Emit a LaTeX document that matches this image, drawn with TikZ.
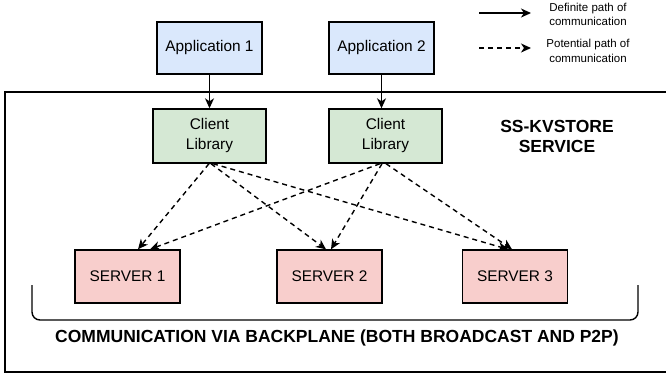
\documentclass[tikz,border=0pt]{standalone}
\usepackage{fontspec}
\setmainfont{Liberation Sans}
\usetikzlibrary{arrows.meta,calc}

\definecolor{appblue}{HTML}{DAE8FC}
\definecolor{libgreen}{HTML}{D5E8D4}
\definecolor{srvred}{HTML}{F8CECC}

\tikzset{
  box/.style={draw=black, line width=1.4pt, inner sep=0pt, align=center,
    font=\fontsize{15.4}{20}\selectfont},
  appbox/.style={box, fill=appblue, minimum width=105pt, minimum height=52pt},
  libbox/.style={box, fill=libgreen, minimum width=113pt, minimum height=54pt},
  srvbox/.style={box, fill=srvred, minimum width=105pt, minimum height=53pt},
  link/.style={line width=1.4pt, -{Stealth[length=10pt,width=9pt,inset=3pt]}},
  maybe/.style={link, dash pattern=on 5pt off 4pt},
  legtext/.style={align=center, inner sep=0pt, font=\fontsize{11.5}{14.5}\selectfont},
  boldtext/.style={align=center, inner sep=0pt, font=\bfseries\fontsize{17.5}{20}\selectfont},
}

\begin{document}
\begin{tikzpicture}[x=1pt,y=-1pt]
\useasboundingbox (0,0) rectangle (666,376);

% service boundary (open on the right)
\draw[line width=2.6pt] (666,92) -- (5,92) -- (5,372) -- (666,372);

% applications
\node[appbox] (a1) at (209.5,48) {Application 1};
\node[appbox] (a2) at (381.5,48) {Application 2};

% client libraries
\node[libbox] (c1) at (209.5,136) {Client\\Library};
\node[libbox] (c2) at (385.5,136) {Client\\Library};

% servers
\node[srvbox] (s1) at (127.5,276.5) {SERVER 1};
\node[srvbox] (s2) at (329.5,276.5) {SERVER 2};
\node[srvbox] (s3) at (515,276.5) {SERVER 3};

% service label
\node[boldtext] (svc) at (557,136.5) {SS-KVSTORE\\SERVICE};

% backplane bracket and label
\draw[line width=1.4pt, rounded corners=8pt] (32,285) -- (32,320) -- (638,320) -- (638,285);
\node[boldtext] (bp) at (337,338) {COMMUNICATION VIA BACKPLANE (BOTH BROADCAST AND P2P)};

% definite paths
\draw[link] (a1.south) -- (c1.north);
\draw[link] (a2.south) -- (a2.south |- c2.north);

% potential paths
\draw[maybe] ($(c1.south)+(-0.5,0)$) -- ($(s1.north)+(10.5,0)$);
\draw[maybe] ($(c1.south)+(1.5,0)$) -- ($(s2.north)+(-3.5,0)$);
\draw[maybe] ($(c1.south)+(3.5,0)$) -- ($(s3.north)+(-7,0)$);
\draw[maybe] ($(c2.south)+(-5.5,0)$) -- ($(s1.north)+(22.5,0)$);
\draw[maybe] ($(c2.south)+(-3.5,0)$) -- ($(s2.north)+(1.5,0)$);
\draw[maybe] ($(c2.south)+(0.5,0)$) -- ($(s3.north)+(-3,0)$);

% legend
\coordinate (l1s) at (479,13);
\coordinate (l1e) at (531,13);
\coordinate (l2s) at (479,48);
\coordinate (l2e) at (531,48);
\draw[link] (l1s) -- (l1e);
\draw[maybe] (l2s) -- (l2e);
\node[legtext] (l1t) at (588,14.5) {Definite path of\\communication};
\node[legtext] (l2t) at (588,51) {Potential path of\\communication};
\end{tikzpicture}
\end{document}
